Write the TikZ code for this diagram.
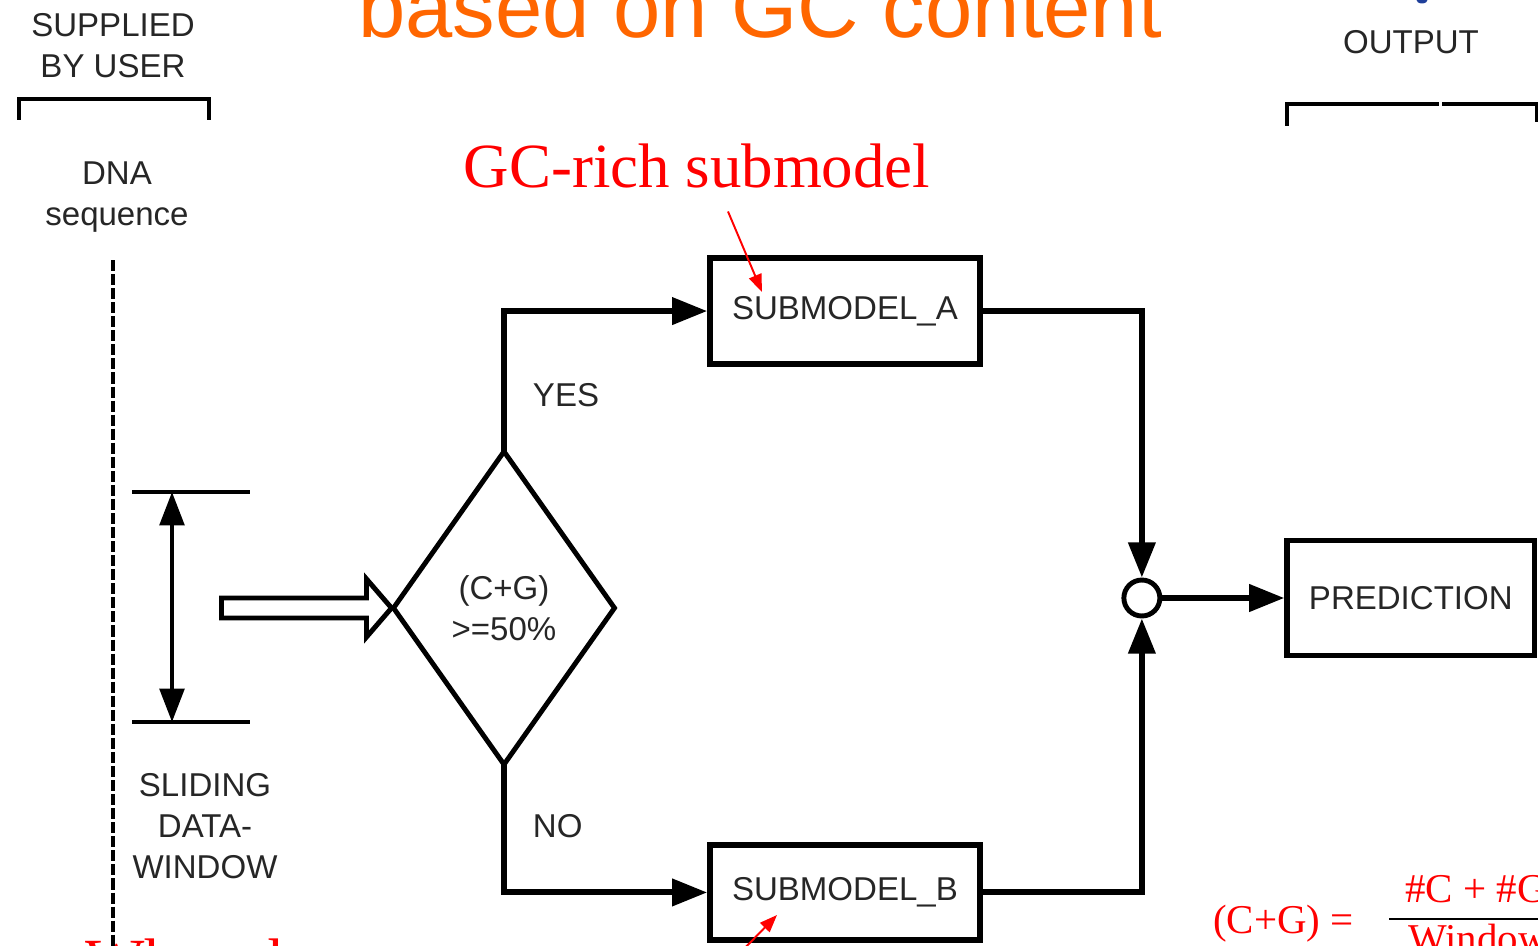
\documentclass[tikz,border=0pt]{standalone}
\usepackage{fontspec}
\setmainfont{Liberation Sans}
\newfontfamily\notefont{Liberation Serif}
\usetikzlibrary{shapes.geometric,arrows.meta}
\definecolor{titleorange}{HTML}{FF6600}
\definecolor{inkblue}{HTML}{1F3F9A}
\tikzset{
  lbl/.style={text=black!85, font=\fontsize{18.8pt}{23.3pt}\selectfont, align=center},
  box/.style={lbl, draw=black, line width=3.1pt, minimum width=5.4cm, minimum height=2.12cm},
  decision/.style={lbl, diamond, draw=black, line width=2.8pt, aspect=0.72, inner sep=0pt,
    outer sep=0pt, minimum width=4.42cm, minimum height=6.26cm},
  junction/.style={circle, draw, line width=2.8pt, minimum size=0.72cm, inner sep=0pt, fill=white},
  flow/.style={line width=3.4pt, -{Triangle[length=20pt,width=15pt]}},
  bracket/.style={line width=2.3pt},
  note/.style={red, line width=1.1pt, -{Triangle[length=10pt,width=7.5pt]}},
  notetext/.style={red, inner sep=0pt, font=\notefont\fontsize{35.8pt}{40pt}\selectfont},
  formula/.style={red, inner sep=0pt, font=\notefont\fontsize{23.3pt}{28pt}\selectfont},
}
\begin{document}
\begin{tikzpicture}[x=0.02cm, y=-0.02cm]
  \useasboundingbox (0,0) rectangle (1538,946);
  \clip (0,0) rectangle (1538,946);

  \node (heading) [anchor=base west, inner sep=0pt, text=titleorange,
    font=\fontsize{48.4pt}{58pt}\selectfont] at (358,38) {based on GC content};
  \fill[inkblue] (1422,-1) ellipse (0.12cm and 0.09cm);

  \node (supplied) [lbl] at (113,46) {SUPPLIED\\BY USER};
  \draw[bracket] (19,120) -- (19,99) -- (209,99) -- (209,120);
  \node (dna) [lbl] at (117,197) {DNA\\sequence};
  \draw[line width=2.3pt, dash pattern=on 6.3pt off 1.7pt] (113,260) -- (113,950);

  \draw[line width=2.6pt] (132,492) -- (250,492);
  \draw[line width=2.6pt] (132,722) -- (250,722);
  \coordinate (wtop) at (172,492);
  \coordinate (wbot) at (172,722);
  \draw[line width=2.2pt, {Triangle[length=19pt,width=14pt]}-{Triangle[length=19pt,width=14pt]}] (wtop) -- (wbot);
  \node (window) [lbl] at (205,826) {SLIDING\\DATA-\\WINDOW};

  \node (cond) [decision] at (504,608) {(C+G)\\>=50\%};
  \node (subA) [box, node distance=6.82cm, right of=cond, yshift=5.94cm] {SUBMODEL\_A};
  \node (subB) [box, minimum height=1.9cm, node distance=6.82cm, right of=cond, yshift=-5.69cm] {SUBMODEL\_B};
  \node (join) [junction, node distance=12.76cm, right of=cond, yshift=0.2cm] {};
  \node (pred) [box, minimum width=4.95cm, minimum height=2.3cm, node distance=5.38cm, right of=join] {PREDICTION};
  \node (output) [lbl] at (1411,42) {OUTPUT};
  \draw[bracket] (1287,126) -- (1287,104) -- (1439,104);
  \draw[bracket] (1442,104) -- (1537,104) -- (1537,122);

  \draw[line width=2.8pt, line join=miter, shift={(cond.west)}]
    (-172,-10) -- (-27,-10) -- (-27,-29) -- (-2,0) -- (-27,29) -- (-27,10) -- (-172,10) -- cycle;

  \draw[flow] (cond.north) |- node[lbl, pos=0.2, right=0.52cm, inner sep=0pt] {YES} (subA.west);
  \draw[flow] (cond.south) |- node[lbl, pos=0.24, right=0.52cm, inner sep=0pt] {NO} (subB.west);
  \draw[flow] (subA.east) -| (join.north);
  \draw[flow] (subB.east) -| (join.south);
  \draw[flow] (join.east) -- (pred.west);

  \node (gcrich) [notetext] at (697,166) {GC-rich submodel};
  \coordinate (gctip) at (762,292);
  \draw[note] ([xshift=0.62cm, yshift=-0.46cm]gcrich.south) -- (gctip);
  \coordinate (attail) at (740,953);
  \coordinate (attip) at (777,915);
  \draw[note] (attail) -- (attip);
  \node (explain) [notetext, anchor=base west] at (-34,982) {ion: When the};

  \node (gcsum) [formula, anchor=base west] at (1213,933) {(C+G) =};
  \node (numer) [formula, anchor=base west] at (1405,902) {\#C + \#G};
  \node (denom) [formula, anchor=base west] at (1408,952) {Window length};
  \draw[line width=1.1pt] (1389,919) -- (1560,919);
\end{tikzpicture}
\end{document}
